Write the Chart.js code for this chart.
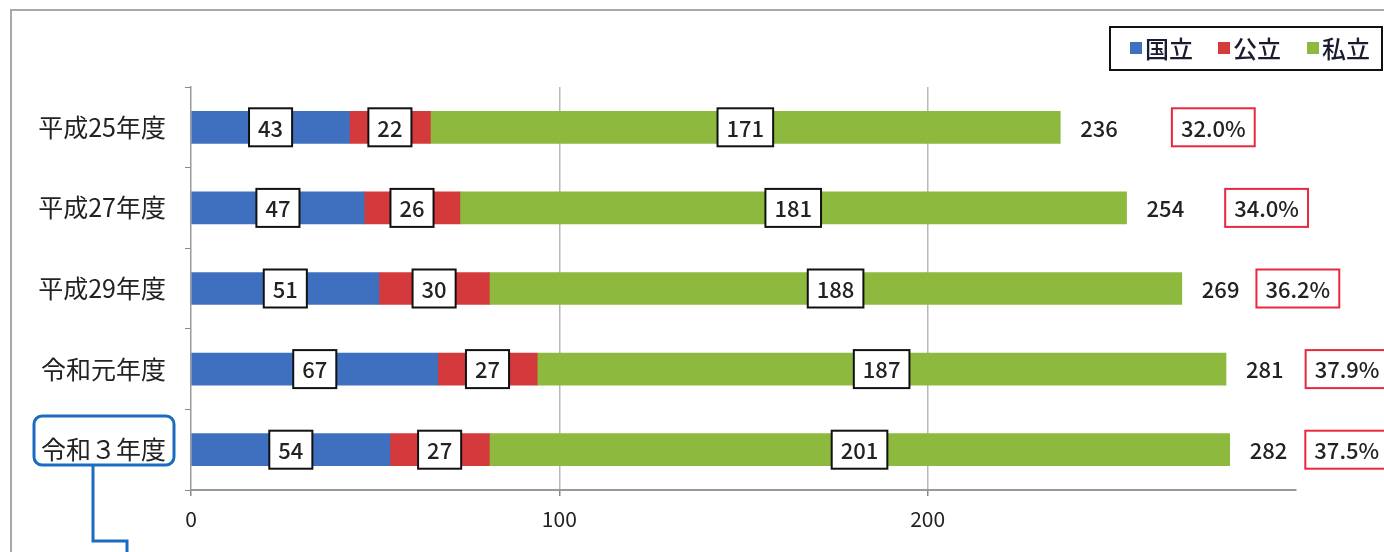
<!DOCTYPE html>
<html>
<head>
<meta charset="utf-8">
<script src="https://cdn.jsdelivr.net/npm/chart.js@4"></script>
<style>
  html, body { margin: 0; padding: 0; background: #fff; }
  canvas { display: block; }
</style>
</head>
<body>
<canvas id="chart" width="1384" height="552"></canvas>
<script>
const years = ["平成25年度", "平成27年度", "平成29年度", "令和元年度", "令和３年度"];
const kokuritsu = [43, 47, 51, 67, 54];
const kouritsu = [22, 26, 30, 27, 27];
const shiritsu = [171, 181, 188, 187, 201];
const totals = [236, 254, 269, 281, 282];
const shares = ["32.0%", "34.0%", "36.2%", "37.9%", "37.5%"];
const xTicks = [0, 100, 200];

const FONT = "'Noto Sans CJK JP', 'Noto Sans', sans-serif";

// gap between the total label and the red share box, per row
const shareGap = [54, 41, 17, 22, 18];

const frame = {
  id: "frame",
  beforeDraw: (chart) => {
    const ctx = chart.ctx;
    ctx.save();
    ctx.strokeStyle = "#a8a8a8";
    ctx.lineWidth = 2;
    ctx.beginPath();
    ctx.moveTo(11, 552);
    ctx.lineTo(11, 10);
    ctx.lineTo(1384, 10);
    ctx.stroke();
    ctx.restore();
  },
};

const boxLabel = (ctx, text, cx, cy, border, minW) => {
  const w = Math.max(ctx.measureText(text).width + 18, minW || 0);
  const h = 38;
  ctx.fillStyle = "#fff";
  ctx.fillRect(cx - w / 2, cy - h / 2, w, h);
  ctx.strokeStyle = border;
  ctx.lineWidth = 2;
  ctx.strokeRect(cx - w / 2, cy - h / 2, w, h);
  ctx.fillStyle = "#222";
  ctx.fillText(text, cx, cy + 1);
};

const labels = {
  id: "labels",
  afterDatasetsDraw: (chart) => {
    const ctx = chart.ctx;
    ctx.save();
    ctx.font = `500 22px ${FONT}`;
    ctx.textAlign = "center";
    ctx.textBaseline = "middle";
    chart.data.datasets.forEach((ds, di) => {
      chart.getDatasetMeta(di).data.forEach((bar, i) => {
        boxLabel(ctx, String(ds.data[i]), (bar.x + bar.base) / 2, bar.y, "#111");
      });
    });
    const last = chart.getDatasetMeta(chart.data.datasets.length - 1);
    last.data.forEach((bar, i) => {
      const t = String(totals[i]);
      ctx.textAlign = "left";
      ctx.fillStyle = "#222";
      const tx = bar.x + 20;
      ctx.fillText(t, tx, bar.y + 1);
      const tw = ctx.measureText(t).width;
      ctx.textAlign = "center";
      const sw = ctx.measureText(shares[i]).width + 18;
      boxLabel(ctx, shares[i], tx + tw + shareGap[i] + sw / 2, bar.y, "#e8283c", sw);
    });
    ctx.restore();
  },
};

const legendBox = {
  id: "legendBox",
  afterDraw: (chart) => {
    const ctx = chart.ctx;
    ctx.save();
    ctx.strokeStyle = "#111";
    ctx.lineWidth = 2;
    ctx.fillStyle = "#fff";
    ctx.fillRect(1110, 27, 272, 43);
    ctx.strokeRect(1110, 27, 272, 43);
    ctx.font = `500 24px ${FONT}`;
    ctx.textBaseline = "middle";
    ctx.textAlign = "left";
    const xs = [1130, 1218, 1307];
    chart.data.datasets.forEach((ds, i) => {
      ctx.fillStyle = ds.backgroundColor;
      ctx.fillRect(xs[i], 42, 12, 12);
      ctx.fillStyle = "#1a1a30";
      ctx.fillText(ds.label, xs[i] + 15, 49);
    });

    // blue callout around the last category
    ctx.strokeStyle = "#1b6cc0";
    ctx.lineWidth = 3;
    ctx.beginPath();
    ctx.roundRect(34, 416, 140, 49, 8);
    ctx.stroke();
    ctx.beginPath();
    ctx.moveTo(93, 465);
    ctx.lineTo(93, 541);
    ctx.lineTo(127, 541);
    ctx.lineTo(127, 552);
    ctx.stroke();
    ctx.restore();
  },
};

new Chart("chart", {
  type: "bar",
  data: {
    labels: years,
    datasets: [
      { label: "国立", data: kokuritsu, backgroundColor: "#3f70c0" },
      { label: "公立", data: kouritsu, backgroundColor: "#d43a3c" },
      { label: "私立", data: shiritsu, backgroundColor: "#8cb93e" },
    ],
  },
  options: {
    indexAxis: "y",
    responsive: false,
    animation: false,
    layout: { padding: { top: 87, right: 88, bottom: 0, left: 0 } },
    datasets: { bar: { barThickness: 32 } },
    plugins: {
      legend: { display: false },
      tooltip: { enabled: false },
    },
    scales: {
      x: {
        stacked: true,
        min: 0,
        max: 300,
        afterBuildTicks: (scale) => {
          scale.ticks = xTicks.map((v) => ({ value: v }));
        },
        afterFit: (scale) => {
          scale.height = 62;
        },
        border: { color: "#999", width: 2 },
        grid: {
          color: (c) => (c.tick && c.tick.value > 0 ? "#b8b8b8" : "rgba(0,0,0,0)"),
          lineWidth: 1.5,
          tickColor: "#888",
          tickLength: 6,
        },
        ticks: {
          color: "#222",
          padding: 10,
          font: { family: FONT, size: 21 },
        },
      },
      y: {
        stacked: true,
        afterFit: (scale) => {
          scale.width = 191;
        },
        border: { color: "#999", width: 1.5 },
        grid: {
          drawOnChartArea: false,
          tickColor: "#888",
          tickLength: 6,
        },
        ticks: {
          color: "#222",
          padding: 19,
          font: { family: FONT, size: 25 },
        },
      },
    },
  },
  plugins: [frame, labels, legendBox],
});
</script>
</body>
</html>
